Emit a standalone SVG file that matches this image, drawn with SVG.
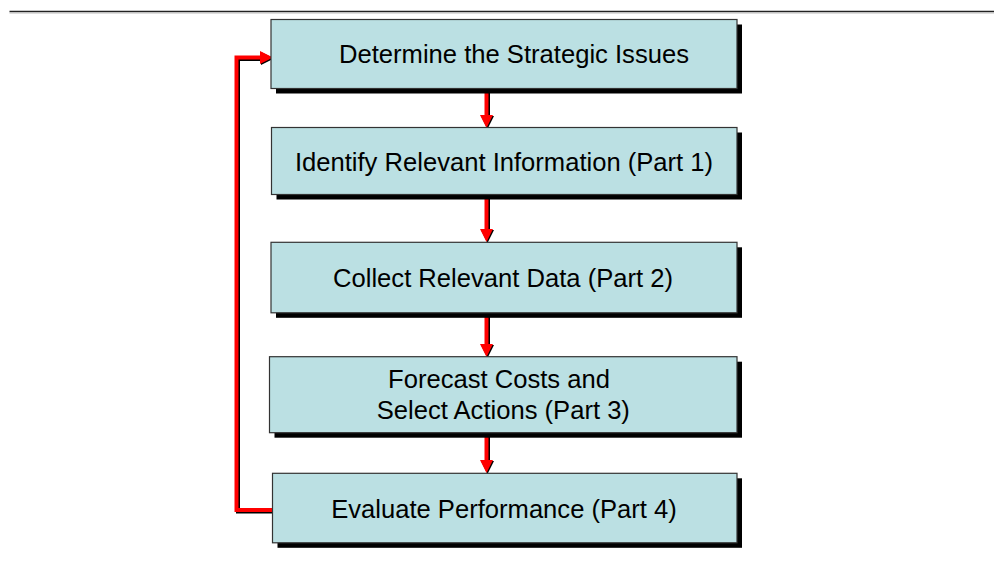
<svg xmlns="http://www.w3.org/2000/svg" width="994" height="587" viewBox="0 0 994 587">
<defs>
<style>
.box{fill:#BBE0E3;stroke:#333;stroke-width:1.2}
.sh{fill:#000}
.t{font-family:"Liberation Sans",Arial,sans-serif;font-size:25.6px;fill:#000;text-anchor:middle}
.red{fill:none;stroke:#FF0000;stroke-width:4;stroke-linejoin:miter}
.blk{fill:none;stroke:#000;stroke-width:4;stroke-linejoin:miter}
.head{fill:#FF0000}
.heads{fill:#000}
</style>
</defs>
<rect width="994" height="587" fill="#fff"/>
<line x1="9.5" y1="11.5" x2="994" y2="11.5" stroke="#222" stroke-width="1.5"/>
<line x1="9.5" y1="13" x2="994" y2="13" stroke="#bbb" stroke-width="1"/>

<g id="connectors">
  <!-- down arrows -->
  <g id="a1">
    <line class="blk" x1="488" y1="89" x2="488" y2="116"/>
    <line class="red" x1="486.5" y1="89" x2="486.5" y2="116"/>
    <polygon class="heads" points="481,116 494,116 487.5,129"/>
    <polygon class="head" points="480,115 493,115 486.5,128"/>
  </g>
  <g id="a2">
    <line class="blk" x1="488" y1="195" x2="488" y2="230"/>
    <line class="red" x1="486.5" y1="195" x2="486.5" y2="230"/>
    <polygon class="heads" points="481,230 494,230 487.5,243"/>
    <polygon class="head" points="480,229 493,229 486.5,242"/>
  </g>
  <g id="a3">
    <line class="blk" x1="488" y1="313" x2="488" y2="345"/>
    <line class="red" x1="486.5" y1="313" x2="486.5" y2="345"/>
    <polygon class="heads" points="481,345 494,345 487.5,358"/>
    <polygon class="head" points="480,344 493,344 486.5,357"/>
  </g>
  <g id="a4">
    <line class="blk" x1="488" y1="433" x2="488" y2="461"/>
    <line class="red" x1="486.5" y1="433" x2="486.5" y2="461"/>
    <polygon class="heads" points="481,461 494,461 487.5,474"/>
    <polygon class="head" points="480,460 493,460 486.5,473"/>
  </g>
  <!-- feedback loop -->
  <g id="loop">
    <polyline class="blk" points="273,511.5 238,511.5 238,59 261,59"/>
    <polyline class="red" points="272.5,510 236.5,510 236.5,57.5 261,57.5"/>
    <polygon class="heads" points="261,52 261,65 274,58.5"/>
    <polygon class="head" points="260,51 260,64 273,57.5"/>
  </g>
</g>

<g id="n1">
  <rect class="sh" x="276" y="24.5" width="466" height="69"/>
  <rect class="box" x="271" y="19.5" width="466" height="69"/>
  <text class="t" x="514" y="63.3">Determine the Strategic Issues</text>
</g>
<g id="n2">
  <rect class="sh" x="276.5" y="132.5" width="465.5" height="67"/>
  <rect class="box" x="271.5" y="127.5" width="465.5" height="67"/>
  <text class="t" x="504" y="170.5">Identify Relevant Information (Part 1)</text>
</g>
<g id="n3">
  <rect class="sh" x="276" y="247.3" width="466" height="70.5"/>
  <rect class="box" x="271" y="242.3" width="466" height="70.5"/>
  <text class="t" x="503" y="287.3">Collect Relevant Data (Part 2)</text>
</g>
<g id="n4">
  <rect class="sh" x="274.5" y="361.7" width="467.5" height="76"/>
  <rect class="box" x="269.5" y="356.7" width="467.5" height="76"/>
  <text class="t" x="499" y="388.3">Forecast Costs and</text>
  <text class="t" x="503.3" y="419.3">Select Actions (Part 3)</text>
</g>
<g id="n5">
  <rect class="sh" x="277.5" y="478.3" width="464.5" height="69.5"/>
  <rect class="box" x="272.5" y="473.3" width="464.5" height="69.5"/>
  <text class="t" x="504" y="517.7">Evaluate Performance (Part 4)</text>
</g>
</svg>
